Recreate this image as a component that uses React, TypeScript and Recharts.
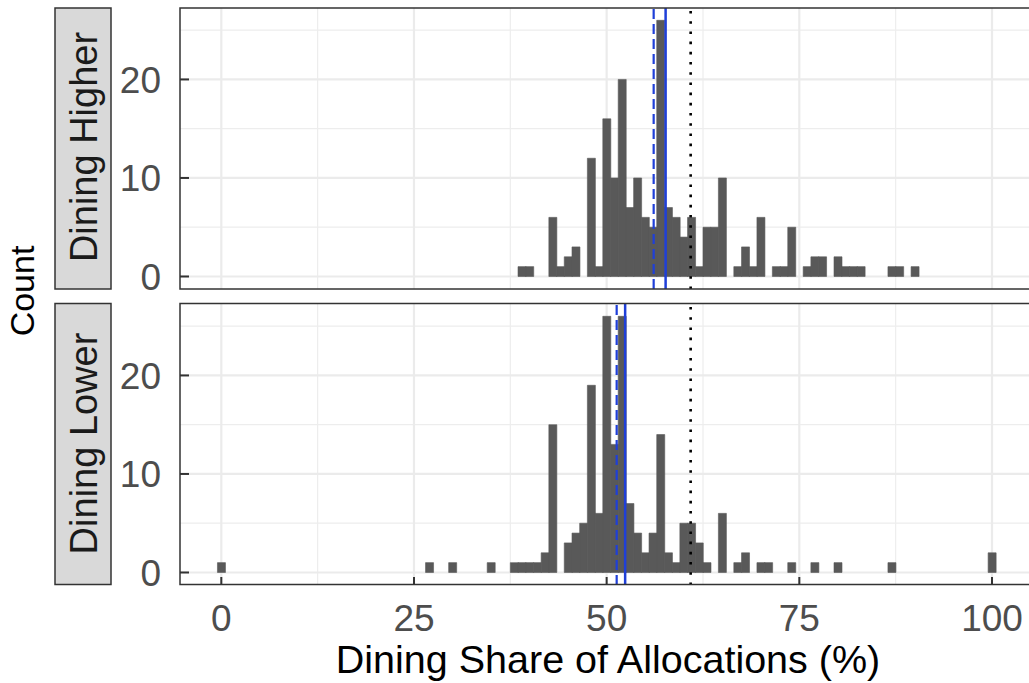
import React from 'react';
import { ComposedChart, Bar, XAxis, YAxis, CartesianGrid, ReferenceLine } from 'recharts';

// Histogram bins: one-unit bins centred on 0..100
const bins: number[] = Array.from({ length: 101 }, (_, i) => i);

// Counts per bin, "Dining Higher" facet (index = bin centre)
const diningHigherCounts: number[] = [
  0, 0, 0, 0, 0, 0, 0, 0, 0, 0, // 0-9
  0, 0, 0, 0, 0, 0, 0, 0, 0, 0, // 10-19
  0, 0, 0, 0, 0, 0, 0, 0, 0, 0, // 20-29
  0, 0, 0, 0, 0, 0, 0, 0, 0, 1, // 30-39
  1, 0, 0, 6, 1, 2, 3, 0, 12, 1, // 40-49
  16, 10, 20, 7, 10, 6, 5, 26, 7, 6, // 50-59
  4, 6, 1, 5, 5, 10, 0, 1, 3, 1, // 60-69
  6, 0, 1, 1, 5, 0, 1, 2, 2, 0, // 70-79
  2, 1, 1, 1, 0, 0, 0, 1, 1, 0, // 80-89
  1, 0, 0, 0, 0, 0, 0, 0, 0, 0, // 90-99
  0, // 100
];

// Counts per bin, "Dining Lower" facet
const diningLowerCounts: number[] = [
  1, 0, 0, 0, 0, 0, 0, 0, 0, 0, // 0-9
  0, 0, 0, 0, 0, 0, 0, 0, 0, 0, // 10-19
  0, 0, 0, 0, 0, 0, 0, 1, 0, 0, // 20-29
  1, 0, 0, 0, 0, 1, 0, 0, 1, 1, // 30-39
  1, 1, 2, 15, 0, 3, 4, 5, 19, 6, // 40-49
  26, 13, 26, 7, 4, 2, 4, 14, 2, 1, // 50-59
  5, 5, 3, 1, 0, 6, 0, 1, 2, 0, // 60-69
  1, 1, 0, 0, 1, 0, 0, 1, 0, 0, // 70-79
  1, 0, 0, 0, 0, 0, 0, 1, 0, 0, // 80-89
  0, 0, 0, 0, 0, 0, 0, 0, 0, 0, // 90-99
  2, // 100
];

// Reference lines (x values)
const higherMedian = 56.1; // dashed
const higherMean = 57.65; // solid
const lowerMedian = 51.3; // dashed
const lowerMean = 52.4; // solid
const overallReference = 60.9; // dotted

const xTicks = [0, 25, 50, 75, 100];
const xMinorTicks = [12.5, 37.5, 62.5, 87.5];
const yTicks = [0, 10, 20];
const yMinorTicks = [5, 15, 25];

const X_DOMAIN: [number, number] = [-5.36, 105.71];
const Y_DOMAIN: [number, number] = [-1.27, 27.25];

const FONT = '"Liberation Sans", Arial, Helvetica, sans-serif';
const BLUE = '#1f3fd8';
const PANEL_H = 281;

const XTick = (props: any) => {
  const { x, y, payload } = props;
  return (
    <g>
      <line x1={x} x2={x} y1={y} y2={y - 8} stroke="#333333" strokeWidth={2} />
      <text x={x} y={y + 46} textAnchor="middle" fontSize={37} fill="#4d4d4d" fontFamily={FONT}>
        {payload.value}
      </text>
    </g>
  );
};

const YTick = (props: any) => {
  const { x, y, payload } = props;
  return (
    <g>
      <line x1={x} x2={x + 9} y1={y} y2={y} stroke="#333333" strokeWidth={2} />
      <text x={x - 19} y={y} dy="0.36em" textAnchor="end" fontSize={37} fill="#4d4d4d" fontFamily={FONT}>
        {payload.value}
      </text>
    </g>
  );
};

type PanelProps = {
  counts: number[];
  median: number;
  mean: number;
  showX: boolean;
};

const Panel = ({ counts, median, mean, showX }: PanelProps) => {
  const data = bins.map((b, i) => ({ bin: b, count: counts[i] }));
  return (
    <ComposedChart
      width={1036}
      height={showX ? PANEL_H + 95 : PANEL_H + 20}
      data={data}
      margin={{ top: 0, right: 0, bottom: showX ? 0 : 20, left: 0 }}
      barCategoryGap={0}
      barGap={0}
    >
      <CartesianGrid
        horizontalValues={yMinorTicks}
        verticalValues={xMinorTicks}
        stroke="#ededed"
        strokeWidth={1.2}
      />
      <CartesianGrid
        horizontalValues={yTicks}
        verticalValues={xTicks}
        stroke="#ebebeb"
        strokeWidth={2.2}
      />
      <XAxis
        dataKey="bin"
        type="number"
        domain={X_DOMAIN}
        allowDataOverflow
        ticks={xTicks}
        interval={0}
        hide={!showX}
        height={95}
        axisLine={false}
        tickLine={false}
        tickSize={0}
        tickMargin={0}
        tick={<XTick />}
      />
      <YAxis
        type="number"
        domain={Y_DOMAIN}
        allowDataOverflow
        ticks={yTicks}
        interval={0}
        width={180}
        axisLine={false}
        tickLine={false}
        tickSize={0}
        tickMargin={0}
        tick={<YTick />}
      />
      <Bar dataKey="count" fill="#595959" stroke="#595959" strokeWidth={0.6} isAnimationActive={false} />
      <ReferenceLine x={median} stroke={BLUE} strokeWidth={2.2} strokeDasharray="10 5" />
      <ReferenceLine x={mean} stroke={BLUE} strokeWidth={2.5} />
      <ReferenceLine x={overallReference} stroke="#000000" strokeWidth={2.6} strokeDasharray="2.6 7.6" />
    </ComposedChart>
  );
};

export default function App() {
  return (
    <div
      style={{
        position: 'absolute',
        left: 0,
        top: 0,
        width: 1029,
        height: 683,
        overflow: 'hidden',
        background: '#ffffff',
        fontFamily: FONT,
      }}
    >
      <div style={{ position: 'absolute', left: 0, top: 8 }}>
        <Panel counts={diningHigherCounts} median={higherMedian} mean={higherMean} showX={false} />
      </div>
      <div style={{ position: 'absolute', left: 0, top: 303.5 }}>
        <Panel counts={diningLowerCounts} median={lowerMedian} mean={lowerMean} showX={true} />
      </div>
      <svg
        width={1029}
        height={683}
        style={{ position: 'absolute', left: 0, top: 0, pointerEvents: 'none' }}
      >
        {/* panel borders */}
        <rect x={180} y={8} width={870} height={PANEL_H} fill="none" stroke="#333333" strokeWidth={1.5} />
        <rect x={180} y={303.5} width={870} height={PANEL_H} fill="none" stroke="#333333" strokeWidth={1.5} />
        {/* facet strips */}
        <rect x={55} y={8} width={56} height={PANEL_H} fill="#d9d9d9" stroke="#333333" strokeWidth={1.5} />
        <rect x={55} y={303.5} width={56} height={PANEL_H} fill="#d9d9d9" stroke="#333333" strokeWidth={1.5} />
        <text
          transform="translate(96.5,147) rotate(-90)"
          textAnchor="middle"
          fontSize={38}
          fill="#1a1a1a"
          fontFamily={FONT}
        >
          Dining Higher
        </text>
        <text
          transform="translate(96.5,443.5) rotate(-90)"
          textAnchor="middle"
          fontSize={38}
          fill="#1a1a1a"
          fontFamily={FONT}
        >
          Dining Lower
        </text>
        {/* axis titles */}
        <text
          transform="translate(34,291) rotate(-90)"
          textAnchor="middle"
          fontSize={34}
          fill="#000000"
          fontFamily={FONT}
        >
          Count
        </text>
        <text x={608} y={672.5} textAnchor="middle" fontSize={39.5} fill="#000000" fontFamily={FONT}>
          Dining Share of Allocations (%)
        </text>
      </svg>
    </div>
  );
}
